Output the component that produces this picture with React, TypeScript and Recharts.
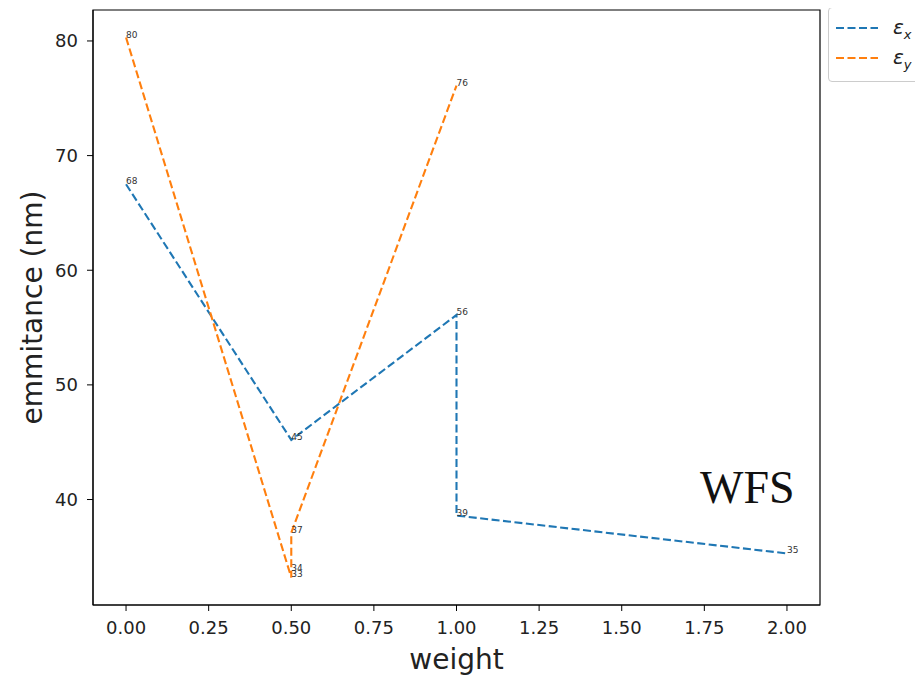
import { LineChart, Line, XAxis, YAxis, ReferenceArea, Customized } from 'recharts';

const exWeight = [0, 0.5, 1, 1, 2];
const exValue = [67.5, 45.2, 56.1, 38.6, 35.3];
const eyWeight = [0, 0.5, 0.5, 0.5, 1];
const eyValue = [80.3, 33.2, 33.8, 37.1, 76.1];
const xTicks = [0, 0.25, 0.5, 0.75, 1, 1.25, 1.5, 1.75, 2];
const yTicks = [40, 50, 60, 70, 80];

const exData = exWeight.map((w, i) => ({ weight: w, value: exValue[i] }));
const eyData = eyWeight.map((w, i) => ({ weight: w, value: eyValue[i] }));

const BLUE = '#1f77b4';
const ORANGE = '#ff7f0e';
const FONT = '"DejaVu Sans", sans-serif';

const pointLabel = (props: any) => (
  <text x={props.x} y={props.y} fontSize={9} fill="#333" fontFamily={FONT}>
    {Math.round(props.value)}
  </text>
);

function LegendBox() {
  const row = (color: string, sub: string, top: number) => (
    <div style={{ position: 'absolute', left: 0, top, width: 94, height: 26 }}>
      <svg width={60} height={26} style={{ position: 'absolute', left: 0, top: 0 }}>
        <line x1={7} x2={49} y1={13} y2={13} stroke={color} strokeWidth={2.1} strokeDasharray="8 3.5" />
      </svg>
      <span style={{ position: 'absolute', left: 64, top: 0, fontFamily: FONT, fontStyle: 'italic', fontSize: 20, lineHeight: '24px', color: '#222' }}>
        ε<sub style={{ fontSize: 13 }}>{sub}</sub>
      </span>
    </div>
  );
  return (
    <div style={{ position: 'absolute', left: 820, top: -1, width: 94, height: 73, border: '1px solid #ccc', borderRadius: 4, background: '#fff' }}>
      {row(BLUE, 'x', 7)}
      {row(ORANGE, 'y', 37)}
    </div>
  );
}

export default function App() {
  return (
    <div style={{ position: 'relative', width: 915, height: 670 }}>
      <LineChart width={915} height={670} margin={{ top: 2, right: 103, left: 0, bottom: 0 }}>
        <XAxis
          type="number"
          dataKey="weight"
          domain={[-0.1, 2.1]}
          ticks={xTicks}
          allowDuplicatedCategory={false}
          tickFormatter={(v) => v.toFixed(2)}
          height={73}
          tickSize={6}
          tickMargin={10}
          stroke="#000"
          tick={{ fill: '#222', fontSize: 18, fontFamily: FONT }}
          label={{ value: 'weight', position: 'insideBottom', offset: 9, fontSize: 28, fill: '#222', fontFamily: FONT }}
        />
        <YAxis
          type="number"
          dataKey="value"
          domain={[30.8, 82.7]}
          ticks={yTicks}
          width={85}
          tickSize={6}
          tickMargin={9}
          stroke="#000"
          tick={{ fill: '#222', fontSize: 18, fontFamily: FONT }}
          label={{ value: 'emmitance (nm)', angle: -90, position: 'insideLeft', offset: 24, fontSize: 28, fill: '#222', fontFamily: FONT, style: { textAnchor: 'middle' } }}
        />
        <ReferenceArea x1={-0.1} x2={2.1} y1={30.8} y2={82.7} fill="none" fillOpacity={0} stroke="#000" strokeWidth={1.2} />
        <Line data={exData} dataKey="value" type="linear" stroke={BLUE} strokeWidth={2.1} strokeDasharray="8 3.5" dot={false} label={pointLabel} isAnimationActive={false} />
        <Line data={eyData} dataKey="value" type="linear" stroke={ORANGE} strokeWidth={2.1} strokeDasharray="8 3.5" dot={false} label={pointLabel} isAnimationActive={false} />
        <Customized component={() => (
          <text x={692} y={495} fontSize={46} fontFamily='"Liberation Serif", serif' fill="#111">WFS</text>
        )} />
      </LineChart>
      <LegendBox />
    </div>
  );
}
